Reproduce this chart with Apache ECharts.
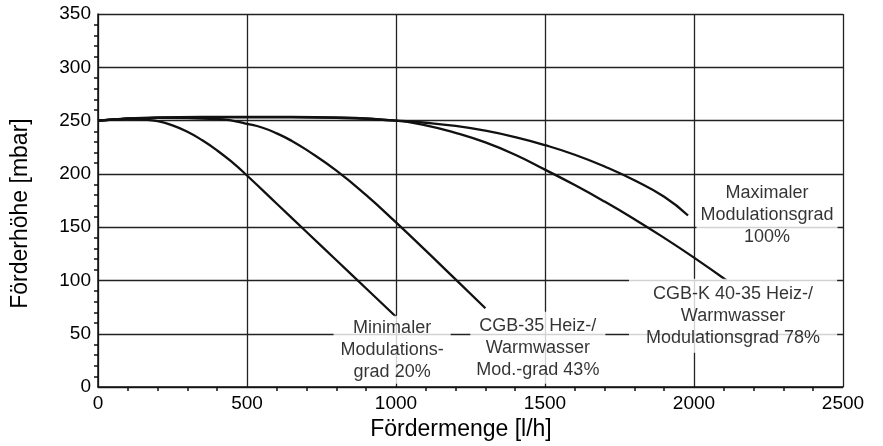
<!DOCTYPE html>
<html>
<head>
<meta charset="utf-8">
<script src="https://cdn.jsdelivr.net/npm/echarts@6/dist/echarts.min.js"></script>
<style>
html,body{margin:0;padding:0;background:#fff;}
#chart{width:883px;height:446px;}
</style>
</head>
<body>
<div id="chart"></div>
<script>
// ---- data ----
const xAxisTitle = 'Fördermenge [l/h]';
const yAxisTitle = 'Förderhöhe [mbar]';
const seriesLabels = [
  'Minimaler\nModulations-\ngrad 20%',
  'CGB-35 Heiz-/\nWarmwasser\nMod.-grad 43%',
  'CGB-K 40-35 Heiz-/\nWarmwasser\nModulationsgrad 78%',
  'Maximaler\nModulationsgrad\n100%'
];
const curve20 = [[0,250],[100,251.5],[150,251],[200,249.5],[250,245.5],[300,239.5],[350,231.5],[400,222],[450,211],[500,198.5],[600,172],[700,145.5],[800,119],[900,92.5],[1000,66]];
const curve43 = [[0,250],[200,252.5],[400,251.5],[450,250],[500,247],[550,243.5],[600,238],[650,231],[700,222.5],[800,203],[900,180],[1000,154.5],[1100,128],[1200,101],[1300,74]];
const curve78 = [[0,250],[200,252.5],[500,253],[800,252.5],[1000,250],[1100,245.5],[1200,238.5],[1300,229.5],[1400,218],[1500,204],[1600,189.5],[1700,174],[1800,157.5],[1900,140],[2000,121.5],[2110,100]];
const curve100 = [[0,250],[200,253],[500,253.5],[800,253],[1000,250],[1100,248],[1200,245],[1300,240.5],[1400,234.5],[1500,227],[1600,218],[1700,207],[1800,194],[1900,178.5],[1980,161]];
const curves = [curve20, curve43, curve78, curve100];

// ---- chart ----
const FONT = '"Liberation Sans", Arial, sans-serif';
const TXT = '#000';
const chart = echarts.init(document.getElementById('chart'), null, {renderer: 'canvas'});

const lineSeries = curves.map((c, i) => ({
  type: 'line',
  name: seriesLabels[i].replace(/\n/g, ' '),
  data: c,
  smooth: 0.5,
  showSymbol: false,
  symbol: 'none',
  lineStyle: {color: '#111', width: 2.3},
  z: 3,
  silent: true
}));

const labelAnchors = [
  {coord: [987, 35], pad: [1, 7, 1, 7]},
  {coord: [1476, 37], pad: [3, 6, 3, 6]},
  {coord: [2131, 67], pad: [4, 17, 4, 17]},
  {coord: [2245, 161], pad: [3, 4, 3, 4]}
];

const labelSeries = labelAnchors.map((a, i) => ({
  type: 'scatter',
  data: [a.coord],
  symbolSize: 0,
  silent: true,
  z: 5,
  label: {
    show: true,
    position: 'inside',
    formatter: seriesLabels[i],
    color: TXT,
    fontFamily: FONT,
    fontSize: 18,
    lineHeight: 22,
    align: 'center',
    verticalAlign: 'middle',
    backgroundColor: '#fff',
    padding: a.pad
  }
}));

const plain = v => String(v);

chart.setOption({
  animation: false,
  backgroundColor: '#fff',
  grid: {left: 98, right: 40, top: 14, bottom: 57, containLabel: false},
  xAxis: {
    type: 'value',
    min: 0, max: 2500, interval: 500,
    name: xAxisTitle,
    nameLocation: 'middle',
    nameGap: 29,
    nameTextStyle: {fontFamily: FONT, fontSize: 23, color: TXT, padding: [0, 19, 0, 0]},
    axisLine: {show: true, onZero: false, lineStyle: {color: '#111', width: 1.5}},
    axisTick: {show: false},
    minorTick: {show: true, splitNumber: 5, length: 4, lineStyle: {color: '#111', width: 1.5}},
    axisLabel: {fontFamily: FONT, fontSize: 19, color: TXT, margin: 7, formatter: plain},
    splitLine: {show: true, lineStyle: {color: '#222', width: 1.3}}
  },
  yAxis: {
    type: 'value',
    min: 0, max: 350, interval: 50,
    name: yAxisTitle,
    nameLocation: 'middle',
    nameGap: 66,
    nameRotate: 90,
    nameTextStyle: {fontFamily: FONT, fontSize: 23, color: TXT, padding: [0, 26, 0, 0]},
    axisLine: {show: true, onZero: false, lineStyle: {color: '#111', width: 1.5}},
    axisTick: {show: false},
    minorTick: {show: true, splitNumber: 5, length: 4, lineStyle: {color: '#111', width: 1.5}},
    axisLabel: {fontFamily: FONT, fontSize: 19, color: TXT, margin: 7, formatter: plain},
    splitLine: {show: true, lineStyle: {color: '#222', width: 1.3}}
  },
  series: lineSeries.concat(labelSeries)
});
</script>
</body>
</html>
